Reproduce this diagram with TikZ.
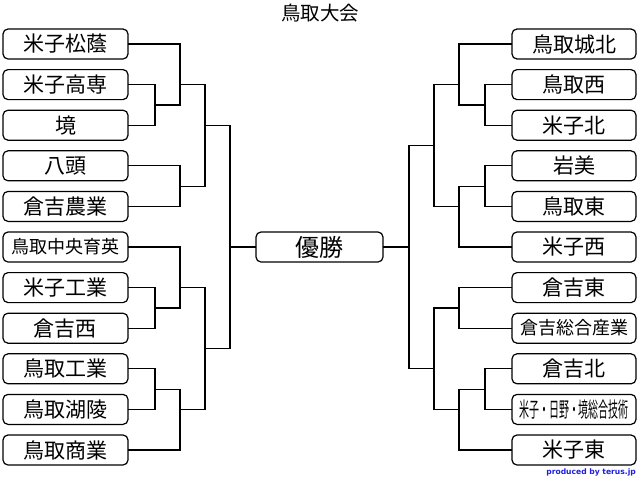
\documentclass[tikz,border=0pt]{standalone}
\usepackage{fontspec}
\setmainfont{Noto Sans CJK JP}
\newfontfamily\credfont{DejaVu Sans}
\definecolor{credblue}{RGB}{30,30,225}
\begin{document}
\begin{tikzpicture}[x=1pt,y=-1pt,
  team/.style={draw, line width=1.2pt, rounded corners=5pt, minimum height=30pt, inner sep=0pt, font=\fontsize{21}{21}\selectfont},
  lteam/.style={team, minimum width=125pt},
  rteam/.style={team, minimum width=124pt},
  champ/.style={team, minimum width=127pt, font=\fontsize{24}{24}\selectfont},
  small/.style={font=\fontsize{18}{18}\selectfont},
  link/.style={draw, line width=1.2pt, line cap=rect}]
\useasboundingbox (0,0) rectangle (640,480);
\node[font=\fontsize{19.5}{19.5}\selectfont] (title) at (320,13) {鳥取大会};
% left teams
\node[lteam] (L1) at (65.5,44.0) {米子松蔭};
\node[lteam] (L2) at (65.5,84.6) {米子高専};
\node[lteam] (L3) at (65.5,125.2) {境};
\node[lteam] (L4) at (65.5,165.8) {八頭};
\node[lteam] (L5) at (65.5,206.4) {倉吉農業};
\node[lteam,small] (L6) at (65.5,247.0) {鳥取中央育英};
\node[lteam] (L7) at (65.5,287.6) {米子工業};
\node[lteam] (L8) at (65.5,328.2) {倉吉西};
\node[lteam] (L9) at (65.5,368.8) {鳥取工業};
\node[lteam] (L10) at (65.5,409.4) {鳥取湖陵};
\node[lteam] (L11) at (65.5,450.0) {鳥取商業};
% right teams
\node[rteam] (R1) at (574,44.0) {鳥取城北};
\node[rteam] (R2) at (574,84.6) {鳥取西};
\node[rteam] (R3) at (574,125.2) {米子北};
\node[rteam] (R4) at (574,165.8) {岩美};
\node[rteam] (R5) at (574,206.4) {鳥取東};
\node[rteam] (R6) at (574,247.0) {米子西};
\node[rteam] (R7) at (574,287.6) {倉吉東};
\node[rteam,small] (R8) at (574,328.2) {倉吉総合産業};
\node[rteam] (R9) at (574,368.8) {倉吉北};
\node[rteam,font=\fontsize{21}{21}\selectfont] (R10) at (574,409.4) {\scalebox{0.475}[1]{米子・日野・境総合技術}};
\node[rteam] (R11) at (574,450.0) {米子東};
% champion
\node[champ] (win) at (319.5,247) {優勝};
% left joints
\coordinate (a1) at (155,104.9);
\coordinate (a2) at (180,84.6);
\coordinate (a3) at (180,186.1);
\coordinate (a4) at (205,125.2);
\coordinate (b1) at (155,307.9);
\coordinate (b2) at (180,287.6);
\coordinate (b3) at (155,389.1);
\coordinate (b4) at (180,409.4);
\coordinate (b5) at (205,348.5);
\coordinate (lt) at (230,247);
% right joints
\coordinate (c1) at (485,104.9);
\coordinate (c2) at (459,84.6);
\coordinate (c3) at (485,186.1);
\coordinate (c4) at (459,206.4);
\coordinate (c5) at (434,145.5);
\coordinate (d1) at (459,307.9);
\coordinate (d2) at (485,389.1);
\coordinate (d3) at (459,409.4);
\coordinate (d4) at (434,368.8);
\coordinate (rt) at (409,247);
% left links
\draw[link] (L2.east) -| (a1);
\draw[link] (L3.east) -| (a1);
\draw[link] (L1.east) -| (a2);
\draw[link] (a1) -| (a2);
\draw[link] (L4.east) -| (a3);
\draw[link] (L5.east) -| (a3);
\draw[link] (a2) -| (a4);
\draw[link] (a3) -| (a4);
\draw[link] (L7.east) -| (b1);
\draw[link] (L8.east) -| (b1);
\draw[link] (L6.east) -| (b2);
\draw[link] (b1) -| (b2);
\draw[link] (L9.east) -| (b3);
\draw[link] (L10.east) -| (b3);
\draw[link] (b3) -| (b4);
\draw[link] (L11.east) -| (b4);
\draw[link] (b2) -| (b5);
\draw[link] (b4) -| (b5);
\draw[link] (a4) -| (lt);
\draw[link] (b5) -| (lt);
\draw[link] (lt) -- (win.west);
% right links
\draw[link] (R2.west) -| (c1);
\draw[link] (R3.west) -| (c1);
\draw[link] (R1.west) -| (c2);
\draw[link] (c1) -| (c2);
\draw[link] (R4.west) -| (c3);
\draw[link] (R5.west) -| (c3);
\draw[link] (c3) -| (c4);
\draw[link] (R6.west) -| (c4);
\draw[link] (c2) -| (c5);
\draw[link] (c4) -| (c5);
\draw[link] (R7.west) -| (d1);
\draw[link] (R8.west) -| (d1);
\draw[link] (R9.west) -| (d2);
\draw[link] (R10.west) -| (d2);
\draw[link] (d2) -| (d3);
\draw[link] (R11.west) -| (d3);
\draw[link] (d1) -| (d4);
\draw[link] (d3) -| (d4);
\draw[link] (c5) -| (rt);
\draw[link] (d4) -| (rt);
\draw[link] (rt) -- (win.east);
% credit
\node[anchor=east, inner sep=0pt, text=credblue, font=\credfont\bfseries\fontsize{7.6}{7.6}\selectfont] (credit) at (636,472) {produced by terus.jp};
\end{tikzpicture}
\end{document}
